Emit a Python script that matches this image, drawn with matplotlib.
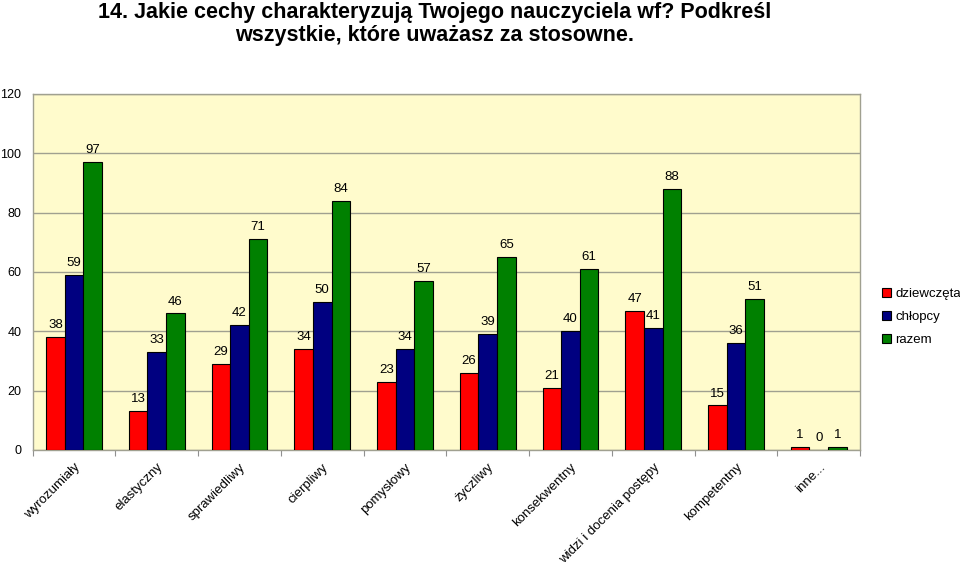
import matplotlib.pyplot as plt
import numpy as np

plt.rcParams['font.family'] = ['Liberation Sans', 'DejaVu Sans']

categories = ['wyrozumiały', 'elastyczny', 'sprawiedliwy', 'cierpliwy', 'pomysłowy',
              'życzliwy', 'konsekwentny', 'widzi i docenia postępy', 'kompetentny', 'inne...']
dziewczeta = [38, 13, 29, 34, 23, 26, 21, 47, 15, 1]
chlopcy = [59, 33, 42, 50, 34, 39, 40, 41, 36, 0]
razem = [97, 46, 71, 84, 57, 65, 61, 88, 51, 1]

series = [('dziewczęta', dziewczeta, '#FF0000'),
          ('chłopcy', chlopcy, '#000080'),
          ('razem', razem, '#008000')]

fig = plt.figure(figsize=(9.6, 5.66), dpi=100)
ax = fig.add_axes([0.034, 0.205, 0.862, 0.629])
ax.set_facecolor('#FFFBCC')

x = np.arange(len(categories))
w = 0.225
for i, (name, vals, col) in enumerate(series):
    pos = x + (i - 1) * w
    ax.bar(pos, vals, w, color=col, edgecolor='black', linewidth=0.8,
           label=name, zorder=3)
    for p, v in zip(pos, vals):
        ax.text(p, v + 2, str(v), ha='center', va='bottom', fontsize=9.5, zorder=4)

ax.set_xlim(-0.5, len(categories) - 0.5)
ax.set_ylim(0, 120)
ax.set_yticks(range(0, 121, 20))
ax.yaxis.grid(True, color='#A0A090', linewidth=1, zorder=0)
ax.tick_params(axis='y', length=0, labelsize=9, pad=8)

# ticks between the groups, labels under the group centres
ax.set_xticks(np.arange(len(categories) + 1) - 0.5, minor=False)
ax.set_xticklabels([])
ax.tick_params(axis='x', which='major', length=4, color='#909090')
ax.set_xticks(x, minor=True)
ax.set_xticklabels(categories, minor=True, rotation=45, ha='right',
                   rotation_mode='anchor', fontsize=9.5)
ax.tick_params(axis='x', which='minor', length=0, pad=8)

for s in ax.spines.values():
    s.set_color('#A0A090')
    s.set_linewidth(1)

ax.legend(loc='upper left', bbox_to_anchor=(1.02, 0.47), frameon=False,
          fontsize=9.5, handlelength=0.7, handleheight=0.7, handletextpad=0.3,
          labelspacing=0.8, borderaxespad=0)

fig.text(0.453, 0.997, '14. Jakie cechy charakteryzują Twojego nauczyciela wf? Podkreśl\nwszystkie, które uważasz za stosowne.',
         ha='center', va='top', fontsize=15.5, fontweight='bold', linespacing=1.15)

fig.savefig('out.png', dpi=100)
